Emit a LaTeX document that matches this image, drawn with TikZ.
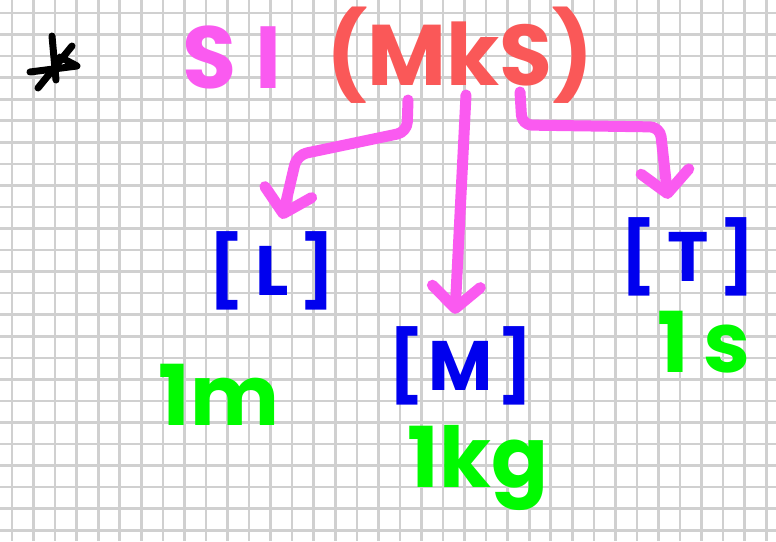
\documentclass[tikz,border=0pt]{standalone}
\usepackage{fontspec}
\setmainfont{Poppins}
\usetikzlibrary{arrows.meta}
\definecolor{gridgray}{RGB}{208,208,208}
\definecolor{notepink}{RGB}{250,90,240}
\definecolor{notered}{RGB}{250,88,88}
\definecolor{noteblue}{RGB}{0,0,238}
\definecolor{notegreen}{RGB}{0,250,0}
\tikzset{
  gridline/.style={gridgray, line width=2.6},
  pen/.style={line width=#1, line cap=round, line join=round},
  title/.style={inner sep=0, anchor=base, font=\fontsize{86}{86}\selectfont\bfseries},
  dimbox/.style={inner sep=0, anchor=base, noteblue, font=\fontsize{70}{70}\selectfont\bfseries\addfontfeature{LetterSpace=#1}},
  dimbox/.default=16,
  unit/.style={inner sep=0, anchor=base, notegreen, font=\fontsize{84}{84}\selectfont\bfseries},
  arr/.style={notepink, pen=11, rounded corners=10, -{Straight Barb[length=22pt,width=48pt,round]}}
}
\begin{document}
\begin{tikzpicture}[x=1pt, y=-1pt]
 \useasboundingbox (0,0) rectangle (776,541);
 \fill[white] (0,0) rectangle (776,541);
 \foreach \i in {0,...,35}
   \draw[gridline] ({12+21.55*\i},0) -- ++(0,541);
 \foreach \j in {0,...,24}
   \draw[gridline] (0,{13+21.55*\j}) -- ++(776,0);

 \draw[pen=7] (52,36) -- (56,80);
 \draw[pen=7] (30,72) -- (77,66) -- (60,57);
 \draw[pen=7] (72,46) -- (38,88);

 \node[title, notepink, font=\fontsize{88}{88}\selectfont\bfseries\addfontfeature{LetterSpace=22}] (si) at (232,88) {SI};
 \node[title, notered] (mks) at (460,85) {(MkS)};

 \node[dimbox] (L) at (272,295) {[L]};
 \node[dimbox=6] (M) at (461,390) {[M]};
 \node[dimbox] (T) at (688,281) {[T]};

 \node[unit] (m1) at (219,425) {1m};
 \node[unit] (kg1) at (478,487) {1kg};
 \node[unit, font=\fontsize{84}{84}\selectfont\bfseries\addfontfeature{LetterSpace=18}] (s1) at (704,372) {1s};

 \coordinate (toL) at (408,100);
 \coordinate (toM) at (466,95);
 \coordinate (toT) at (520,92);
 \draw[arr] (toL) -- (407,132) -- (297,155) -- ([xshift=10pt,yshift=12pt]L.north);
 \draw[arr] (toM) -- ([xshift=-6pt,yshift=12pt]M.north);
 \draw[arr] (toT) -- (522,125) -- (660,127) -- ([xshift=-20pt,yshift=18pt]T.north);
\end{tikzpicture}
\end{document}
